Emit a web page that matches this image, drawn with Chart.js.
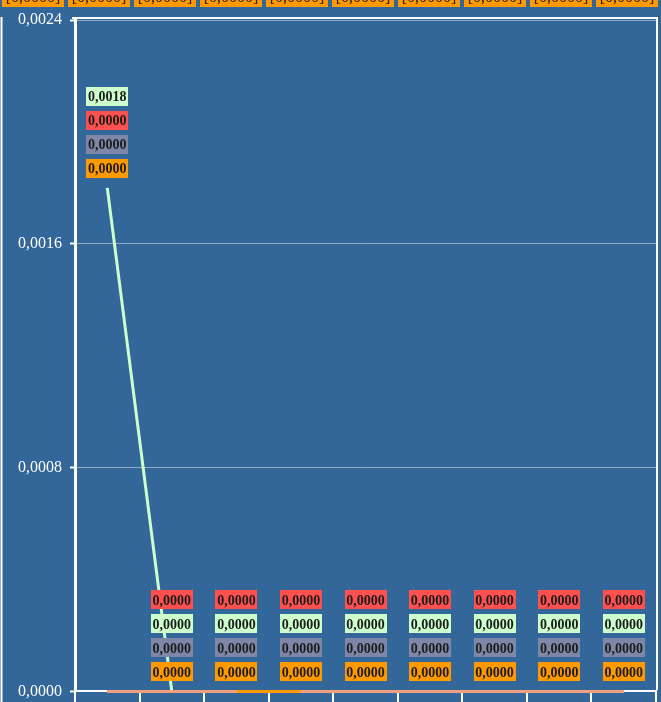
<!DOCTYPE html>
<html><head><meta charset="utf-8">
<script src="https://cdn.jsdelivr.net/npm/chart.js@4.4.1/dist/chart.umd.min.js"></script>
<style>
html,body{margin:0;padding:0;background:#336699;overflow:hidden;width:661px;height:702px;}
#wrap{position:absolute;left:0;top:0;width:661px;height:709px;}
</style></head><body>
<div id="wrap"><canvas id="c" width="661" height="709"></canvas></div>
<script>
const categories = ['1', '2', '3', '4', '5', '6', '7', '8', '9'];
const seriesNames = ['Serie 1', 'Serie 2', 'Serie 3', 'Serie 4'];
const redValues    = [0, 0, 0, 0, 0, 0, 0, 0, 0];
const greenValues  = [0.0018, 0, 0, 0, 0, 0, 0, 0, 0];
const grayValues   = [0, 0, 0, 0, 0, 0, 0, 0, 0];
const orangeValues = [0, 0, 0, 0, 0, 0, 0, 0, 0];
const yTicks = [0, 0.0008, 0.0016, 0.0024];
const topStripLabels = ['[0,0000]', '[0,0000]', '[0,0000]', '[0,0000]', '[0,0000]', '[0,0000]', '[0,0000]', '[0,0000]', '[0,0000]', '[0,0000]'];

const boxColors = ['#ff5050', '#ccffcc', '#7f87a9', '#ff9900'];
const lineColors = ['#f0a07e', '#ccffcc', '#7f87a9', '#ff9900'];
const fmt = v => v.toFixed(4).replace('.', ',');

const labelPlugin = {
  id: 'stackLabels',
  afterDatasetsDraw(chart) {
    const ctx = chart.ctx;
    const ys = chart.scales.y;
    const n = chart.data.labels.length;
    ctx.save();
    ctx.font = 'bold 14px "Liberation Serif"';
    ctx.textAlign = 'center';
    ctx.textBaseline = 'middle';
    for (let i = 0; i < n; i++) {
      const items = chart.data.datasets.map((d, k) => ({k, v: d.data[i]}));
      items.sort((a, b) => (b.v - a.v) || (a.k - b.k));
      const maxV = items[0].v;
      const x = chart.getDatasetMeta(0).data[i].x;
      const base = ys.getPixelForValue(maxV) - 19.5;
      for (let j = items.length - 1, s = 0; j >= 0; j--, s++) {
        const it = items[j];
        const cy = base - s * 24;
        ctx.fillStyle = boxColors[it.k];
        ctx.fillRect(Math.round(x - 21), Math.round(cy - 9.5), 42, 19);
        ctx.fillStyle = '#1c1c1c';
        ctx.fillText(fmt(it.v), x, cy + 1);
      }
    }
    ctx.restore();
  },
  afterDraw(chart) {
    const ctx = chart.ctx;
    const a = chart.chartArea;
    ctx.save();
    ctx.strokeStyle = '#ffffff';
    ctx.lineWidth = 2;
    ctx.beginPath();
    ctx.moveTo(72, 18);
    ctx.lineTo(a.right + 1, 18);
    ctx.lineTo(a.right + 1, a.bottom - 1.5);
    ctx.stroke();
    ctx.beginPath();
    ctx.moveTo(1.5, 17);
    ctx.lineTo(1.5, 709);
    ctx.stroke();
    ctx.font = '16px "Liberation Serif"';
    ctx.textAlign = 'center';
    ctx.textBaseline = 'alphabetic';
    topStripLabels.forEach((t, i) => {
      const cx = 33 + i * 66;
      ctx.fillStyle = '#ff9900';
      ctx.fillRect(cx - 31, -12, 62, 19);
      ctx.fillStyle = '#222';
      ctx.fillText(t, cx, 2);
    });
    ctx.restore();
  }
};

new Chart(document.getElementById('c'), {
  type: 'line',
  data: {
    labels: categories,
    datasets: [redValues, greenValues, grayValues, orangeValues].map((vals, k) => ({
      label: seriesNames[k],
      data: vals,
      borderColor: lineColors[k],
      backgroundColor: boxColors[k],
      borderWidth: 3,
      pointRadius: 0,
      tension: 0,
      fill: false,
      clip: false,
      segment: k === 0 ? { borderColor: c => c.p0DataIndex === 2 ? '#ff9900' : undefined } : undefined
    }))
  },
  options: {
    responsive: false,
    devicePixelRatio: 1,
    animation: false,
    layout: { padding: { top: 20, right: 5, left: 0, bottom: 0 } },
    plugins: { legend: { display: false }, tooltip: { enabled: false } },
    scales: {
      x: {
        offset: true,
        ticks: { display: false },
        grid: { drawOnChartArea: false, tickLength: 11, color: '#ffffff', lineWidth: 2, offset: true },
        border: { color: '#ffffff', width: 2 },
        afterFit: s => { s.height = 11; }
      },
      y: {
        min: 0, max: 0.0024,
        afterBuildTicks: s => { s.ticks = yTicks.map(v => ({ value: v })); },
        ticks: {
          color: '#ffffff',
          padding: 8,
          font: { family: '"Liberation Serif"', size: 16 },
          callback: v => fmt(v)
        },
        grid: { color: 'rgba(255,255,255,0.45)', lineWidth: 1, tickLength: 5, tickColor: '#ffffff', tickWidth: 2 },
        border: { color: '#ffffff', width: 3 },
        afterFit: s => { s.width = 75; }
      }
    }
  },
  plugins: [labelPlugin]
});
</script>
</body></html>
